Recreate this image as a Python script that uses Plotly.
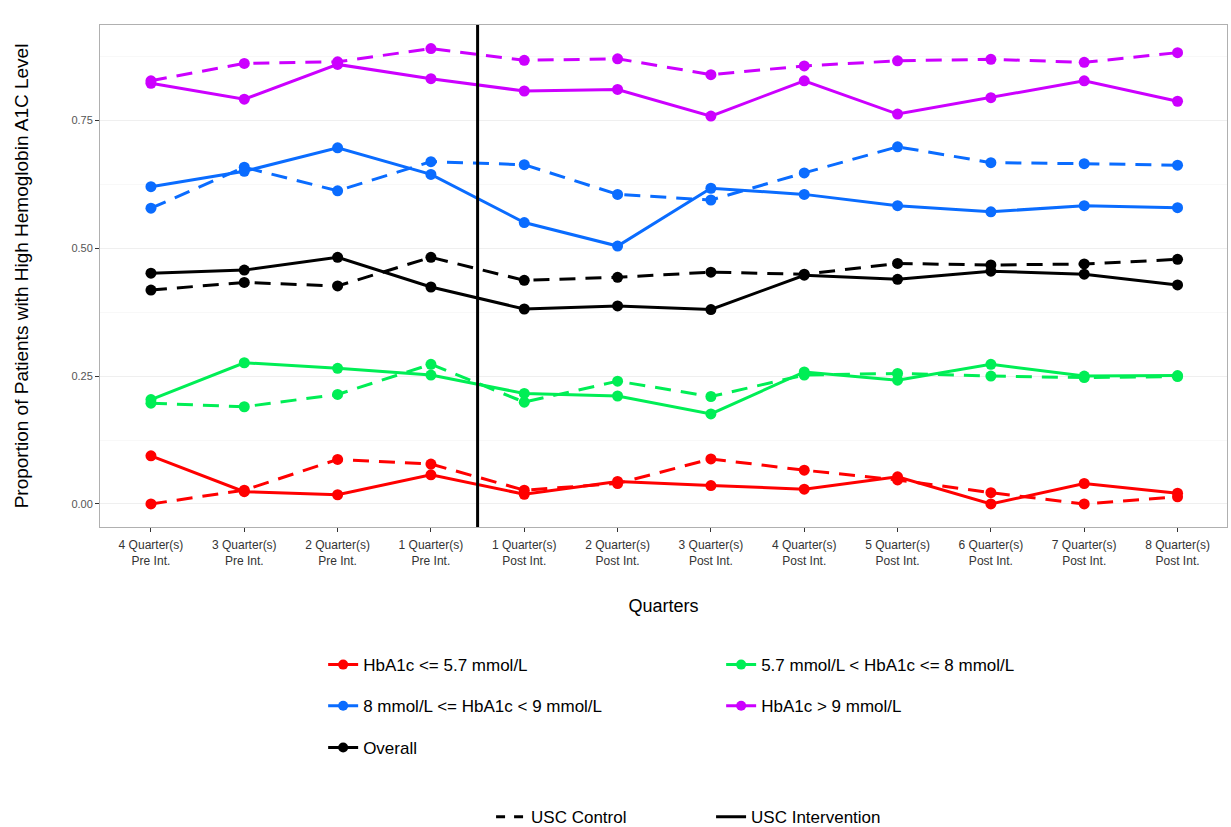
import plotly.graph_objects as go

# Quarter labels relative to the intervention
quarters = [
    "4 Quarter(s)<br>Pre Int.", "3 Quarter(s)<br>Pre Int.", "2 Quarter(s)<br>Pre Int.",
    "1 Quarter(s)<br>Pre Int.", "1 Quarter(s)<br>Post Int.", "2 Quarter(s)<br>Post Int.",
    "3 Quarter(s)<br>Post Int.", "4 Quarter(s)<br>Post Int.", "5 Quarter(s)<br>Post Int.",
    "6 Quarter(s)<br>Post Int.", "7 Quarter(s)<br>Post Int.", "8 Quarter(s)<br>Post Int.",
]

# Proportions per HbA1c band, USC Control (dashed) vs USC Intervention (solid)
low_control = [0.000, 0.027, 0.087, 0.078, 0.027, 0.040, 0.088, 0.066, 0.047, 0.022, 0.000, 0.014]
low_intervention = [0.094, 0.024, 0.018, 0.057, 0.019, 0.044, 0.036, 0.029, 0.053, 0.000, 0.040, 0.021]
mid_control = [0.197, 0.190, 0.214, 0.273, 0.199, 0.240, 0.210, 0.252, 0.255, 0.250, 0.247, 0.249]
mid_intervention = [0.204, 0.276, 0.265, 0.252, 0.216, 0.211, 0.176, 0.258, 0.242, 0.273, 0.250, 0.251]
high_control = [0.578, 0.658, 0.612, 0.669, 0.663, 0.605, 0.594, 0.647, 0.698, 0.667, 0.665, 0.662]
high_intervention = [0.620, 0.650, 0.696, 0.644, 0.550, 0.504, 0.617, 0.605, 0.583, 0.571, 0.583, 0.579]
vhigh_control = [0.827, 0.861, 0.864, 0.890, 0.867, 0.870, 0.839, 0.856, 0.866, 0.869, 0.863, 0.882]
vhigh_intervention = [0.822, 0.791, 0.859, 0.831, 0.807, 0.810, 0.758, 0.827, 0.762, 0.794, 0.827, 0.787]
overall_control = [0.418, 0.433, 0.426, 0.482, 0.437, 0.443, 0.453, 0.449, 0.470, 0.467, 0.469, 0.478]
overall_intervention = [0.451, 0.457, 0.482, 0.424, 0.381, 0.387, 0.380, 0.447, 0.439, 0.455, 0.449, 0.428]

band_names = [
    "HbA1c <= 5.7 mmol/L",
    "5.7 mmol/L < HbA1c <= 8 mmol/L",
    "8 mmol/L <= HbA1c < 9 mmol/L",
    "HbA1c > 9 mmol/L",
    "Overall",
]
band_colors = ["#ff0000", "#00ee55", "#0a6cff", "#cc00ff", "#000000"]
band_control = [low_control, mid_control, high_control, vhigh_control, overall_control]
band_intervention = [low_intervention, mid_intervention, high_intervention,
                     vhigh_intervention, overall_intervention]
# legend rows: (red, green), (blue, purple), (black)
band_legend = ["legend", "legend", "legend2", "legend2", "legend3"]

DASH = "16px,10px"
FONT = "Liberation Sans, Arial, Helvetica, sans-serif"

fig = go.Figure()

for name, color, ctrl, intv in zip(band_names, band_colors, band_control, band_intervention):
    fig.add_trace(go.Scatter(
        x=quarters, y=ctrl, mode="lines+markers", name=name,
        line=dict(color=color, width=3, dash=DASH),
        marker=dict(color=color, size=11), showlegend=False,
    ))
    fig.add_trace(go.Scatter(
        x=quarters, y=intv, mode="lines+markers", name=name,
        line=dict(color=color, width=3),
        marker=dict(color=color, size=11), showlegend=False,
    ))

# colour legend entries
for name, color, lg in zip(band_names, band_colors, band_legend):
    fig.add_trace(go.Scatter(
        x=[None], y=[None], mode="lines+markers", name=name,
        line=dict(color=color, width=3), marker=dict(color=color, size=10),
        legend=lg, showlegend=True,
    ))

# line type legend entries
for name, dash in [("USC Control", "dash"), ("USC Intervention", "solid")]:
    fig.add_trace(go.Scatter(
        x=[None], y=[None], mode="lines", name=name,
        line=dict(color="#000000", width=3, dash=dash),
        legend="legend4", showlegend=True,
    ))

# intervention start
fig.add_shape(type="line", xref="x", yref="paper", x0=3.5, x1=3.5, y0=0, y1=1,
              line=dict(color="#000000", width=3), layer="above")

legend_common = dict(
    orientation="h", xanchor="left", yanchor="middle",
    font=dict(family=FONT, size=17, color="#000000"),
    bgcolor="rgba(0,0,0,0)", entrywidthmode="pixels", traceorder="normal",
)

fig.update_layout(
    width=1231, height=827,
    margin=dict(l=100, r=4, t=25, b=300, autoexpand=False),
    paper_bgcolor="#ffffff", plot_bgcolor="#ffffff",
    font=dict(family=FONT, color="#000000"),
    xaxis=dict(
        type="category", range=[-0.546, 11.53],
        showgrid=False, showline=True, mirror=True, linecolor="#b0b0b0", linewidth=1,
        ticks="outside", ticklen=4, tickwidth=1, tickcolor="#333333",
        ticklabelstandoff=3,
        tickfont=dict(family=FONT, size=12, color="#333333"),
        title=dict(text="Quarters", font=dict(family=FONT, size=18, color="#000000"),
                   standoff=32),
        zeroline=False,
    ),
    yaxis=dict(
        range=[-0.045, 0.936], tickvals=[0, 0.25, 0.5, 0.75], tickformat=".2f",
        showgrid=True, gridcolor="#efefef", gridwidth=1,
        minor=dict(dtick=0.125, tick0=0.125, showgrid=True, gridcolor="#f8f8f8", gridwidth=1),
        showline=True, mirror=True, linecolor="#b0b0b0", linewidth=1,
        ticks="outside", ticklen=4, tickwidth=1, tickcolor="#333333",
        tickfont=dict(family=FONT, size=11, color="#555555"),
        title=dict(text="Proportion of Patients with High Hemoglobin A1C Level",
                   font=dict(family=FONT, size=19, color="#000000"), standoff=37),
        zeroline=False,
    ),
    legend=dict(x=0.198, y=-0.275, entrywidth=353, **legend_common),
    legend2=dict(x=0.198, y=-0.357, entrywidth=353, **legend_common),
    legend3=dict(x=0.198, y=-0.440, entrywidth=353, **legend_common),
    legend4=dict(x=0.347, y=-0.578, entrywidth=175, **legend_common),
)

fig.write_html("out.html")
